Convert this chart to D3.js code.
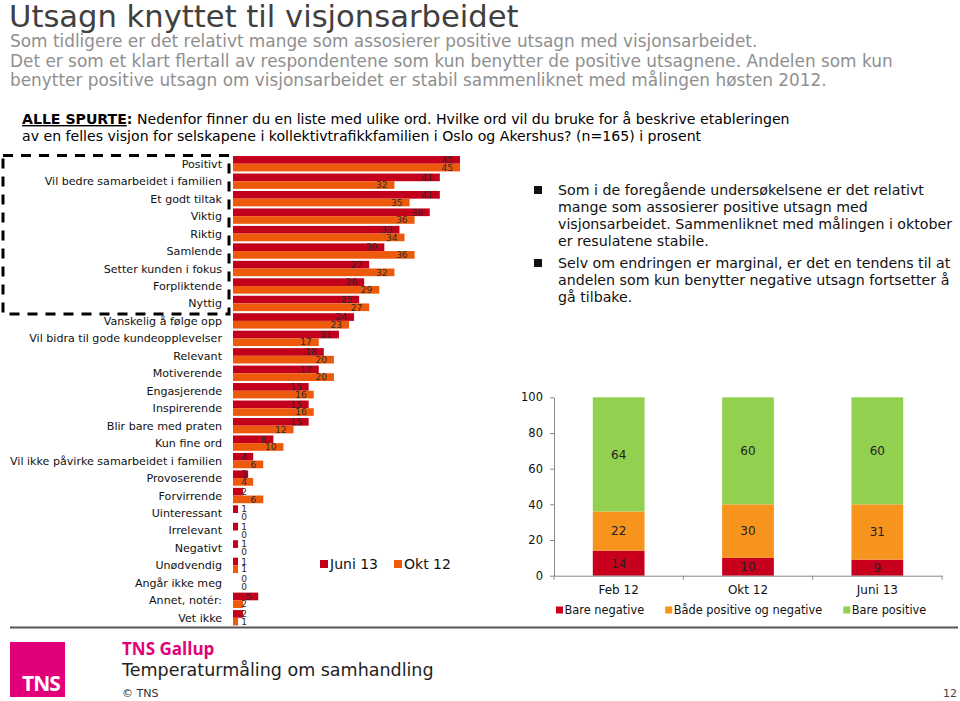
<!DOCTYPE html>
<html>
<head>
<meta charset="utf-8">
<script src="https://cdn.jsdelivr.net/npm/d3@7"></script>
<style>
  html, body { margin: 0; padding: 0; background: #fff; }
  svg { display: block; font-family: "DejaVu Sans", Verdana, sans-serif; }
</style>
</head>
<body>
<div id="chart"></div>
<script>
// ---------- DATA ----------
const categories = [
  "Positivt", "Vil bedre samarbeidet i familien", "Et godt tiltak", "Viktig", "Riktig",
  "Samlende", "Setter kunden i fokus", "Forpliktende", "Nyttig", "Vanskelig å følge opp",
  "Vil bidra til gode kundeopplevelser", "Relevant", "Motiverende", "Engasjerende",
  "Inspirerende", "Blir bare med praten", "Kun fine ord", "Vil ikke påvirke samarbeidet i familien",
  "Provoserende", "Forvirrende", "Uinteressant", "Irrelevant", "Negativt", "Unødvendig",
  "Angår ikke meg", "Annet, notér:", "Vet ikke"
];
const juni13 = [45, 41, 41, 39, 33, 30, 27, 26, 25, 24, 21, 18, 17, 15, 15, 15, 8, 4, 3, 2, 1, 1, 1, 1, 0, 5, 2];
const okt12  = [45, 32, 35, 36, 34, 36, 32, 29, 27, 23, 17, 20, 20, 16, 16, 12, 10, 6, 4, 6, 0, 0, 0, 1, 0, 2, 1];
const barSeries = ["Juni 13", "Okt 12"];

const periods = ["Feb 12", "Okt 12", "Juni 13"];
const bareNegative = [14, 10, 9];
const badePosNeg = [22, 30, 31];
const barePositive = [64, 60, 60];
const stackSeries = ["Bare negative", "Både positive og negative", "Bare positive"];
const stackTicks = [0, 20, 40, 60, 80, 100];

const titleText = "Utsagn knyttet til visjonsarbeidet";
const subtitleLines = [
  "Som tidligere er det relativt mange som assosierer positive utsagn med visjonsarbeidet.",
  "Det er som et klart flertall av respondentene som kun benytter de positive utsagnene. Andelen som kun",
  "benytter positive utsagn om visjonsarbeidet er stabil sammenliknet med målingen høsten 2012."
];
const questionLine2 = "av en felles visjon for selskapene i kollektivtrafikkfamilien i Oslo og Akershus? (n=165) i prosent";
const bullets = [
  ["Som i de foregående undersøkelsene er det relativt", "mange som assosierer positive utsagn med", "visjonsarbeidet. Sammenliknet med målingen i oktober", "er resulatene stabile."],
  ["Selv om endringen er marginal, er det en tendens til at", "andelen som kun benytter negative utsagn fortsetter å", "gå tilbake."]
];

// ---------- STYLE ----------
const colJuni = "#C3001B", colOkt = "#EE5A0C";
const stackColors = ["#C8001E", "#F7941E", "#92D050"];
const magenta = "#E2007A";

const W = 960, H = 701;
const svg = d3.select("#chart").append("svg").attr("width", W).attr("height", H);

// ---------- HEADER ----------
svg.append("text").attr("x", 9).attr("y", 27).attr("font-size", 30.6).attr("fill", "#404040").text(titleText);
svg.append("g").selectAll("text").data(subtitleLines).join("text")
  .attr("x", 10).attr("y", (d, i) => 47 + i * 19.7)
  .attr("font-size", 16.9).attr("fill", "#8f8f8f").text(d => d);

const q1 = svg.append("text").attr("x", 22).attr("y", 124).attr("font-size", 14.1).attr("fill", "#000");
q1.append("tspan").attr("font-weight", "bold").attr("text-decoration", "underline").text("ALLE SPURTE");
q1.append("tspan").attr("font-weight", "bold").text(":");
q1.append("tspan").text(" Nedenfor finner du en liste med ulike ord. Hvilke ord vil du bruke for å beskrive etableringen");
svg.append("text").attr("x", 22).attr("y", 141).attr("font-size", 14.1).attr("fill", "#000").text(questionLine2);

// ---------- LEFT BAR CHART ----------
const xb = d3.scaleLinear().domain([0, 45]).range([233, 460]);
const yb = d3.scaleBand().domain(categories).range([155, 626.5]).paddingInner(0.12).paddingOuter(0.06);
const bh = yb.bandwidth() / 2;

// dashed highlight box
svg.append("rect").attr("x", 3).attr("y", 155.5).attr("width", 226).attr("height", 158.5)
  .attr("fill", "none").attr("stroke", "#000").attr("stroke-width", 3).attr("stroke-dasharray", "10,8");

const rows = categories.map((c, i) => ({ c, vals: [juni13[i], okt12[i]] }));
const gBars = svg.append("g");
const rowG = gBars.selectAll("g").data(rows).join("g").attr("transform", d => `translate(0,${yb(d.c)})`);
rowG.selectAll("rect").data(d => d.vals).join("rect")
  .attr("x", xb(0)).attr("y", (d, i) => i * bh)
  .attr("width", d => xb(d) - xb(0)).attr("height", bh)
  .attr("fill", (d, i) => i === 0 ? colJuni : colOkt);
rowG.selectAll("text.val").data(d => d.vals).join("text").attr("class", "val")
  .attr("x", d => Math.max(xb(d) - 7, 247)).attr("y", (d, i) => i * bh + bh / 2)
  .attr("dy", "0.36em").attr("text-anchor", "end").attr("font-size", 9).attr("fill", "#2a2a2a")
  .text(d => d);

svg.append("g").selectAll("text").data(categories).join("text")
  .attr("x", 222).attr("y", d => yb(d) + yb.bandwidth() / 2).attr("dy", "0.36em")
  .attr("text-anchor", "end").attr("font-size", 11.1).attr("fill", "#111").text(d => d);

// legend for bar chart
const lg1 = svg.append("g").attr("transform", "translate(320,564)");
let lx = 0;
barSeries.forEach((s, i) => {
  const g = lg1.append("g").attr("transform", `translate(${lx},0)`);
  g.append("rect").attr("x", 0).attr("y", -4).attr("width", 8).attr("height", 8).attr("fill", i === 0 ? colJuni : colOkt);
  const t = g.append("text").attr("x", 10).attr("y", 0).attr("dy", "0.36em").attr("font-size", 14).attr("fill", "#111").text(s);
  lx += 10 + t.node().getComputedTextLength() + 16;
});

// ---------- RIGHT BULLET TEXT ----------
let by = 195;
bullets.forEach((lines, bi) => {
  svg.append("rect").attr("x", 534).attr("y", by - 9).attr("width", 8).attr("height", 8).attr("fill", "#111");
  lines.forEach((l, li) => {
    svg.append("text").attr("x", 558).attr("y", by).attr("font-size", 14.2).attr("fill", "#111").text(l);
    by += 17;
  });
  by += 5;
});

// ---------- STACKED CHART ----------
const xs = d3.scaleBand().domain(periods).range([554, 942]).paddingInner(0.6).paddingOuter(0.3);
const ys = d3.scaleLinear().domain([0, 100]).range([575.7, 397.3]);
const stackData = periods.map((p, i) => ({ period: p, neg: bareNegative[i], both: badePosNeg[i], pos: barePositive[i] }));
const stacked = d3.stack().keys(["neg", "both", "pos"])(stackData);

const gs = svg.append("g");
gs.selectAll("g").data(stacked).join("g").attr("fill", (d, i) => stackColors[i])
  .selectAll("rect").data(d => d).join("rect")
  .attr("x", d => xs(d.data.period)).attr("width", xs.bandwidth())
  .attr("y", d => ys(d[1])).attr("height", d => ys(d[0]) - ys(d[1]));
gs.selectAll("g.lbl").data(stacked).join("g").attr("class", "lbl")
  .selectAll("text").data(d => d.map(v => ({ v, key: d.key }))).join("text")
  .attr("x", d => xs(d.v.data.period) + xs.bandwidth() / 2)
  .attr("y", d => ys((d.v[0] + d.v[1]) / 2)).attr("dy", "0.36em")
  .attr("text-anchor", "middle").attr("font-size", 12).attr("fill", "#222")
  .text(d => d.v[1] - d.v[0]);

// y axis
const yAxis = svg.append("g").attr("transform", `translate(${xs.range()[0]},0)`)
  .call(d3.axisLeft(ys).tickValues(stackTicks).tickSize(4).tickSizeOuter(0).tickPadding(7));
yAxis.selectAll("text").attr("font-size", 11.5).attr("fill", "#111").attr("font-family", "DejaVu Sans, sans-serif");
yAxis.selectAll("line, path").attr("stroke", "#8a8a8a");

// x axis
const xAxis = svg.append("g").attr("transform", `translate(0,${ys(0)})`)
  .call(d3.axisBottom(xs).tickSize(0).tickPadding(10));
xAxis.selectAll("text").attr("font-size", 12).attr("fill", "#111").attr("font-family", "DejaVu Sans, sans-serif");
xAxis.select("path").attr("stroke", "#8a8a8a");
const bounds = d3.range(periods.length + 1).map(i => xs.range()[0] + i * xs.step());
xAxis.selectAll("line.bound").data(bounds).join("line").attr("class", "bound")
  .attr("x1", d => d).attr("x2", d => d).attr("y1", 0).attr("y2", 4).attr("stroke", "#8a8a8a");

// legend stacked
const lg2 = svg.append("g").attr("transform", "translate(556,610)");
let lx2 = 0;
stackSeries.forEach((s, i) => {
  const g = lg2.append("g").attr("transform", `translate(${lx2},0)`);
  g.append("rect").attr("x", 0).attr("y", -3.5).attr("width", 7).attr("height", 7).attr("fill", stackColors[i]);
  const t = g.append("text").attr("x", 8.5).attr("y", 0).attr("dy", "0.36em").attr("font-size", 11.4).attr("fill", "#111").text(s);
  lx2 += 8.5 + t.node().getComputedTextLength() + 21;
});

// ---------- FOOTER ----------
svg.append("line").attr("x1", 10).attr("x2", 958).attr("y1", 627.5).attr("y2", 627.5).attr("stroke", "#555").attr("stroke-width", 2);
svg.append("rect").attr("x", 10).attr("y", 642).attr("width", 55).attr("height", 55).attr("fill", magenta);
svg.append("text").attr("x", 22).attr("y", 691).attr("font-size", 21).attr("font-weight", "bold")
  .attr("font-family", "Open Sans, sans-serif").attr("fill", "#fff").attr("letter-spacing", -1).text("TNS");
svg.append("text").attr("x", 122).attr("y", 655).attr("font-size", 17).attr("font-weight", "bold")
  .attr("font-family", "Open Sans, sans-serif").attr("fill", magenta).text("TNS Gallup");
svg.append("text").attr("x", 122).attr("y", 676).attr("font-size", 17.5).attr("fill", "#222").text("Temperaturmåling om samhandling");
svg.append("text").attr("x", 122).attr("y", 697).attr("font-size", 11).attr("fill", "#333").text("© TNS");
svg.append("text").attr("x", 957).attr("y", 697).attr("text-anchor", "end").attr("font-size", 11).attr("fill", "#444").text("12");
</script>
</body>
</html>
